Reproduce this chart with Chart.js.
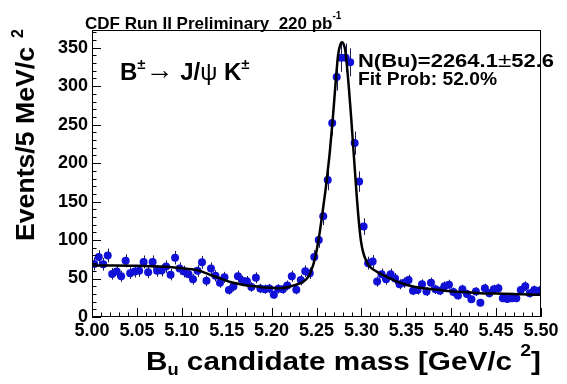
<!DOCTYPE html>
<html>
<head>
<meta charset="utf-8">
<script src="https://cdn.jsdelivr.net/npm/chart.js@4.4.1/dist/chart.umd.min.js"></script>
<style>
  html, body { margin: 0; padding: 0; background: #fff; }
</style>
</head>
<body>
<canvas id="graf" width="567" height="384"></canvas>
<script>
// histograma: 100 bins de 5 MeV entre 5.00 y 5.50
const binLow = 5.00;
const binWidth = 0.005;
const counts = [
  69, 78, 68.6, 80, 56, 59, 53, 73, 57, 59,
  60, 71.5, 58, 71.5, 60, 60.5, 65.5, 55, 77, 63,
  59, 55.5, 49, 60, 71, 47, 63, 53.5, 44.6, 51.5,
  35, 39.5, 53, 47, 46.5, 39, 51, 37, 36.2, 37,
  29, 36.6, 36.2, 41, 53, 35.5, 48, 59.5, 57, 78,
  100, 131, 178, 252, 312, 337, 337, 331, 226, 176,
  117.5, 70, 72, 46, 55.5, 49, 55.5, 50, 42.5, 44.6,
  48, 34.2, 35, 42.5, 33, 44.6, 36, 34.2, 40, 42,
  32.5, 28, 36, 30, 23, 33, 18.6, 37.3, 30.8, 36,
  37.3, 24.3, 23.4, 24.3, 24.3, 35, 40, 30.8, 35, 34.2
];
const binCenters = counts.map((_, i) => binLow + binWidth * (i + 0.5));

// curva del ajuste
const fitX = [5.000, 5.025, 5.050, 5.075, 5.100, 5.117, 5.1225, 5.1355, 5.141, 5.154,
  5.1634, 5.1726, 5.1818, 5.1912, 5.2004, 5.2097, 5.219, 5.2246, 5.2339, 5.2394,
  5.2431, 5.2487, 5.2525, 5.2553, 5.258, 5.2606, 5.263, 5.2647, 5.268, 5.271,
  5.274, 5.2765, 5.2784, 5.280, 5.282, 5.2859, 5.2888, 5.2914, 5.294, 5.297,
  5.2996, 5.302, 5.305, 5.309, 5.3155, 5.3248, 5.336, 5.3508, 5.3694, 5.3879,
  5.4028, 5.414, 5.4324, 5.451, 5.4696, 5.4955, 5.500];
const fitY = [67, 67, 66.5, 65.5, 63.5, 61, 59, 53, 51, 45.5,
  43, 41, 40, 38.5, 38, 37.5, 39, 41, 45, 50,
  57, 78, 102, 124, 147, 170, 195, 213, 256, 300,
  340, 354, 357, 355, 347, 300, 256, 213, 170, 126,
  98, 84, 74, 66, 60, 54, 48, 41.6, 37.3, 35,
  33, 32.5, 31, 30.5, 30, 29, 29];

const xTicks = [5.00, 5.05, 5.10, 5.15, 5.20, 5.25, 5.30, 5.35, 5.40, 5.45, 5.50];
const yTicks = [0, 50, 100, 150, 200, 250, 300, 350];

const FONT = "'Liberation Sans', Arial, sans-serif";

// dibuja una serie de trozos de texto [texto, tamano, desplazamiento vertical, peso]
function drawPieces(ctx, pieces, x, y, measureOnly) {
  let cx = x;
  pieces.forEach(([txt, size, dy, weight]) => {
    ctx.font = `${weight || 'bold'} ${size}px ${FONT}`;
    if (!measureOnly) ctx.fillText(txt, cx, y + dy);
    cx += ctx.measureText(txt).width;
  });
  return cx - x;
}

// igual, pero estirado en horizontal para ocupar 'ancho' px (fuente ROOT mas ancha)
function drawStretched(ctx, pieces, x, y, ancho) {
  const w = drawPieces(ctx, pieces, 0, 0, true);
  ctx.save();
  ctx.translate(x, y);
  ctx.scale(ancho / w, 1);
  drawPieces(ctx, pieces, 0, 0);
  ctx.restore();
}

const decor = {
  id: 'decor',
  beforeDatasetsDraw(chart) {
    const { ctx, scales: { x, y } } = chart;
    ctx.save();
    ctx.strokeStyle = '#1a1a50';
    ctx.lineWidth = 1;
    counts.forEach((n, i) => {
      const e = Math.sqrt(n); // error de Poisson
      const px = Math.round(x.getPixelForValue(binCenters[i])) + 0.5;
      ctx.beginPath();
      ctx.moveTo(px, y.getPixelForValue(n + e));
      ctx.lineTo(px, y.getPixelForValue(n - e));
      ctx.stroke();
    });
    ctx.restore();
  },
  afterDraw(chart) {
    const { ctx, chartArea: a, scales: { x, y } } = chart;
    ctx.save();
    // marco
    ctx.strokeStyle = '#000';
    ctx.lineWidth = 1;
    ctx.strokeRect(a.left + 0.5, a.top + 0.5, a.right - a.left - 1, a.bottom - a.top - 1);
    // ticks hacia adentro
    ctx.beginPath();
    for (let k = 0; k <= 50; k++) {
      const px = Math.round(x.getPixelForValue(5 + k * 0.01)) + 0.5;
      const len = k % 5 === 0 ? 9 : 4.5;
      ctx.moveTo(px, a.bottom);
      ctx.lineTo(px, a.bottom - len);
    }
    for (let v = 0; v <= y.max; v += 10) {
      const py = Math.round(y.getPixelForValue(v)) + 0.5;
      const len = v % 50 === 0 ? 9 : 4.5;
      ctx.moveTo(a.left, py);
      ctx.lineTo(a.left + len, py);
    }
    ctx.stroke();

    ctx.fillStyle = '#000';
    ctx.textAlign = 'left';
    ctx.textBaseline = 'alphabetic';

    // titulo
    const w = drawPieces(ctx, [['CDF Run II Preliminary  220 pb', 17, 0]], 85, 29);
    drawPieces(ctx, [['-1', 10, -10]], 85 + w, 29);

    // decaimiento
    drawPieces(ctx, [
      ['B', 24, 0], ['\u00B1', 15, -11], ['\u2192', 28, -1, 'normal'], [' J/', 24, 0],
      ['\u03C8', 24, 0, 'normal'], [' K', 24, 0], ['\u00B1', 15, -11]
    ], 120, 80);

    // resultados del ajuste
    drawStretched(ctx, [['N(Bu)=2264.1', 19, 0], ['\u00B1', 21, 0, 'normal'], ['52.6', 19, 0]], 358, 67, 196);
    drawStretched(ctx, [['Fit Prob: 52.0%', 19, 0]], 358, 85, 139);

    // titulo eje x
    drawStretched(ctx, [['B', 26, 0], ['u', 16, 5], [' candidate mass [GeV/c ', 26, 0], ['2', 17, -14], [']', 26, 0]],
      146, 370, a.right - 146);

    // titulo eje y
    ctx.translate(34, 241);
    ctx.rotate(-Math.PI / 2);
    drawStretched(ctx, [['Events/5 MeV/c', 25, 0]], 0, 0, 194);
    drawPieces(ctx, [['2', 16, -11]], 203, 0);
    ctx.restore();
  }
};

const ctx = document.getElementById('graf').getContext('2d');
const graf = new Chart(ctx, {
  type: 'scatter',
  data: {
    datasets: [
      {
        label: 'Ajuste',
        type: 'line',
        data: fitX.map((v, i) => ({ x: v, y: fitY[i] })),
        borderColor: '#000',
        borderWidth: 2.5,
        pointRadius: 0,
        cubicInterpolationMode: 'monotone',
        fill: false,
        order: 0
      },
      {
        label: 'Datos',
        data: binCenters.map((v, i) => ({ x: v, y: counts[i] })),
        backgroundColor: 'rgb(16, 16, 215)',
        pointRadius: 4,
        pointBorderWidth: 0,
        order: 1
      }
    ]
  },
  options: {
    responsive: false,
    animation: false,
    layout: { padding: { top: 30, right: 26, left: 0, bottom: 0 } },
    plugins: { legend: { display: false }, tooltip: { enabled: false } },
    scales: {
      x: {
        type: 'linear',
        min: 5.0,
        max: 5.5,
        afterFit: s => { s.height = 67; },
        afterBuildTicks: s => { s.ticks = xTicks.map(v => ({ value: v })); },
        grid: { display: false, drawTicks: false },
        border: { display: false },
        ticks: {
          autoSkip: false,
          maxRotation: 0,
          padding: 3,
          color: '#000',
          font: { family: FONT, weight: 'bold', size: 18 },
          callback: v => v.toFixed(2)
        }
      },
      y: {
        min: 0,
        max: 373,
        afterFit: s => { s.width = 92; },
        afterBuildTicks: s => { s.ticks = yTicks.map(v => ({ value: v })); },
        grid: { display: false, drawTicks: false },
        border: { display: false },
        ticks: {
          padding: 4,
          color: '#000',
          font: { family: FONT, weight: 'bold', size: 18 }
        }
      }
    }
  },
  plugins: [decor]
});
</script>
</body>
</html>
